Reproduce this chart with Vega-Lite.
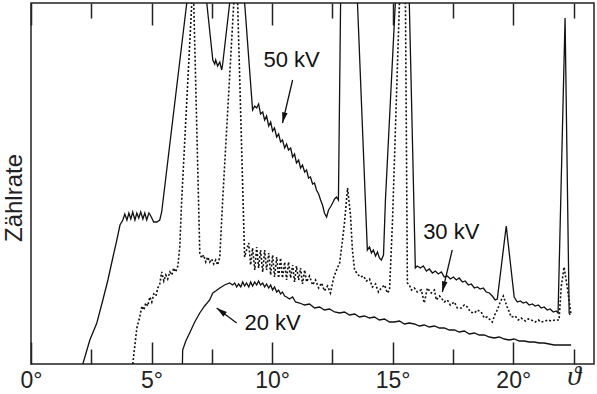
{
  "$schema": "https://vega.github.io/schema/vega-lite/v6.json",
  "width": 563,
  "height": 361,
  "autosize": {"type": "none"},
  "padding": {"left": 31, "top": 3, "right": 3, "bottom": 30},
  "config": {
    "view": {"stroke": "#222", "strokeWidth": 1.5},
    "font": "Liberation Sans",
    "axisX": {"domain": false, "grid": false, "title": null, "tickColor": "#222", "tickWidth": 1.5, "labelOverlap": false, "labelFlush": false, "labelColor": "#222"}
  },
  "datasets": {
    "curves": [
      {"series":"50 kV","theta":2.15,"rate":0},{"series":"50 kV","theta":2.44,"rate":24},{"series":"50 kV","theta":2.73,"rate":41},{"series":"50 kV","theta":2.98,"rate":64},{"series":"50 kV","theta":3.19,"rate":84},{"series":"50 kV","theta":3.40,"rate":107},{"series":"50 kV","theta":3.56,"rate":124},{"series":"50 kV","theta":3.69,"rate":139},{"series":"50 kV","theta":3.81,"rate":144},{"series":"50 kV","theta":3.89,"rate":150},{"series":"50 kV","theta":3.98,"rate":144},{"series":"50 kV","theta":4.06,"rate":151},{"series":"50 kV","theta":4.14,"rate":145},{"series":"50 kV","theta":4.22,"rate":152},{"series":"50 kV","theta":4.31,"rate":144},{"series":"50 kV","theta":4.39,"rate":151},{"series":"50 kV","theta":4.47,"rate":146},{"series":"50 kV","theta":4.55,"rate":152},{"series":"50 kV","theta":4.64,"rate":145},{"series":"50 kV","theta":4.72,"rate":151},{"series":"50 kV","theta":4.80,"rate":144},{"series":"50 kV","theta":4.89,"rate":151},{"series":"50 kV","theta":4.97,"rate":148},{"series":"50 kV","theta":5.09,"rate":142},{"series":"50 kV","theta":5.22,"rate":142},{"series":"50 kV","theta":5.34,"rate":144},{"series":"50 kV","theta":5.42,"rate":152},{"series":"50 kV","theta":6.46,"rate":361},{"series":"50 kV","theta":6.87,"rate":424},{"series":"50 kV","theta":7.29,"rate":361},{"series":"50 kV","theta":7.54,"rate":304},{"series":"50 kV","theta":7.62,"rate":300},{"series":"50 kV","theta":7.66,"rate":304},{"series":"50 kV","theta":7.74,"rate":298},{"series":"50 kV","theta":7.83,"rate":302},{"series":"50 kV","theta":7.91,"rate":294},{"series":"50 kV","theta":7.95,"rate":300},{"series":"50 kV","theta":8.24,"rate":361},{"series":"50 kV","theta":8.53,"rate":404},{"series":"50 kV","theta":8.86,"rate":361},{"series":"50 kV","theta":9.19,"rate":254},{"series":"50 kV","theta":9.28,"rate":258},{"series":"50 kV","theta":9.36,"rate":256},{"series":"50 kV","theta":9.44,"rate":260},{"series":"50 kV","theta":9.52,"rate":250},{"series":"50 kV","theta":9.61,"rate":252},{"series":"50 kV","theta":9.69,"rate":244},{"series":"50 kV","theta":9.77,"rate":248},{"series":"50 kV","theta":9.86,"rate":238},{"series":"50 kV","theta":9.94,"rate":242},{"series":"50 kV","theta":10.02,"rate":233},{"series":"50 kV","theta":10.10,"rate":236},{"series":"50 kV","theta":10.19,"rate":227},{"series":"50 kV","theta":10.27,"rate":230},{"series":"50 kV","theta":10.35,"rate":222},{"series":"50 kV","theta":10.43,"rate":224},{"series":"50 kV","theta":10.52,"rate":216},{"series":"50 kV","theta":10.60,"rate":220},{"series":"50 kV","theta":10.68,"rate":214},{"series":"50 kV","theta":10.77,"rate":216},{"series":"50 kV","theta":10.85,"rate":207},{"series":"50 kV","theta":10.93,"rate":210},{"series":"50 kV","theta":11.01,"rate":201},{"series":"50 kV","theta":11.10,"rate":204},{"series":"50 kV","theta":11.18,"rate":196},{"series":"50 kV","theta":11.26,"rate":199},{"series":"50 kV","theta":11.35,"rate":192},{"series":"50 kV","theta":11.43,"rate":194},{"series":"50 kV","theta":11.51,"rate":186},{"series":"50 kV","theta":11.59,"rate":187},{"series":"50 kV","theta":11.68,"rate":180},{"series":"50 kV","theta":11.76,"rate":181},{"series":"50 kV","theta":11.84,"rate":174},{"series":"50 kV","theta":11.93,"rate":170},{"series":"50 kV","theta":12.01,"rate":164},{"series":"50 kV","theta":12.09,"rate":159},{"series":"50 kV","theta":12.17,"rate":151},{"series":"50 kV","theta":12.26,"rate":147},{"series":"50 kV","theta":12.34,"rate":154},{"series":"50 kV","theta":12.42,"rate":157},{"series":"50 kV","theta":12.51,"rate":161},{"series":"50 kV","theta":12.59,"rate":165},{"series":"50 kV","theta":12.67,"rate":167},{"series":"50 kV","theta":12.75,"rate":164},{"series":"50 kV","theta":12.84,"rate":361},{"series":"50 kV","theta":13.25,"rate":464},{"series":"50 kV","theta":13.54,"rate":361},{"series":"50 kV","theta":13.95,"rate":114},{"series":"50 kV","theta":14.04,"rate":117},{"series":"50 kV","theta":14.12,"rate":111},{"series":"50 kV","theta":14.20,"rate":114},{"series":"50 kV","theta":14.29,"rate":108},{"series":"50 kV","theta":14.37,"rate":112},{"series":"50 kV","theta":14.45,"rate":106},{"series":"50 kV","theta":14.53,"rate":104},{"series":"50 kV","theta":14.62,"rate":109},{"series":"50 kV","theta":14.70,"rate":164},{"series":"50 kV","theta":15.11,"rate":361},{"series":"50 kV","theta":15.40,"rate":444},{"series":"50 kV","theta":15.69,"rate":361},{"series":"50 kV","theta":15.94,"rate":96},{"series":"50 kV","theta":16.02,"rate":98},{"series":"50 kV","theta":16.15,"rate":96},{"series":"50 kV","theta":16.27,"rate":98},{"series":"50 kV","theta":16.40,"rate":93},{"series":"50 kV","theta":16.52,"rate":95},{"series":"50 kV","theta":16.65,"rate":91},{"series":"50 kV","theta":16.77,"rate":93},{"series":"50 kV","theta":16.89,"rate":90},{"series":"50 kV","theta":17.02,"rate":92},{"series":"50 kV","theta":17.14,"rate":87},{"series":"50 kV","theta":17.27,"rate":88},{"series":"50 kV","theta":17.39,"rate":85},{"series":"50 kV","theta":17.52,"rate":87},{"series":"50 kV","theta":17.64,"rate":84},{"series":"50 kV","theta":17.76,"rate":86},{"series":"50 kV","theta":17.89,"rate":82},{"series":"50 kV","theta":18.01,"rate":83},{"series":"50 kV","theta":18.14,"rate":79},{"series":"50 kV","theta":18.26,"rate":80},{"series":"50 kV","theta":18.39,"rate":76},{"series":"50 kV","theta":18.51,"rate":77},{"series":"50 kV","theta":18.63,"rate":75},{"series":"50 kV","theta":18.76,"rate":76},{"series":"50 kV","theta":18.88,"rate":72},{"series":"50 kV","theta":19.01,"rate":71},{"series":"50 kV","theta":19.13,"rate":68},{"series":"50 kV","theta":19.25,"rate":64},{"series":"50 kV","theta":19.34,"rate":65},{"series":"50 kV","theta":19.71,"rate":138},{"series":"50 kV","theta":20.04,"rate":67},{"series":"50 kV","theta":20.17,"rate":62},{"series":"50 kV","theta":20.29,"rate":63},{"series":"50 kV","theta":20.41,"rate":61},{"series":"50 kV","theta":20.54,"rate":62},{"series":"50 kV","theta":20.66,"rate":59},{"series":"50 kV","theta":20.79,"rate":60},{"series":"50 kV","theta":20.91,"rate":58},{"series":"50 kV","theta":21.04,"rate":59},{"series":"50 kV","theta":21.16,"rate":56},{"series":"50 kV","theta":21.28,"rate":57},{"series":"50 kV","theta":21.41,"rate":54},{"series":"50 kV","theta":21.53,"rate":55},{"series":"50 kV","theta":21.66,"rate":52},{"series":"50 kV","theta":21.78,"rate":53},{"series":"50 kV","theta":21.86,"rate":51},{"series":"50 kV","theta":22.15,"rate":346},{"series":"50 kV","theta":22.32,"rate":51},{"series":"50 kV","theta":22.36,"rate":49},
      {"series":"30 kV","theta":4.22,"rate":0},{"series":"30 kV","theta":4.31,"rate":19},{"series":"30 kV","theta":4.39,"rate":36},{"series":"30 kV","theta":4.51,"rate":47},{"series":"30 kV","theta":4.60,"rate":58},{"series":"30 kV","theta":4.68,"rate":54},{"series":"30 kV","theta":4.76,"rate":61},{"series":"30 kV","theta":4.84,"rate":58},{"series":"30 kV","theta":4.93,"rate":67},{"series":"30 kV","theta":5.01,"rate":62},{"series":"30 kV","theta":5.09,"rate":70},{"series":"30 kV","theta":5.18,"rate":68},{"series":"30 kV","theta":5.26,"rate":76},{"series":"30 kV","theta":5.34,"rate":80},{"series":"30 kV","theta":5.42,"rate":92},{"series":"30 kV","theta":5.51,"rate":83},{"series":"30 kV","theta":5.59,"rate":89},{"series":"30 kV","theta":5.67,"rate":85},{"series":"30 kV","theta":5.76,"rate":92},{"series":"30 kV","theta":5.84,"rate":89},{"series":"30 kV","theta":5.92,"rate":96},{"series":"30 kV","theta":6.00,"rate":92},{"series":"30 kV","theta":6.09,"rate":98},{"series":"30 kV","theta":6.17,"rate":117},{"series":"30 kV","theta":6.25,"rate":164},{"series":"30 kV","theta":6.67,"rate":361},{"series":"30 kV","theta":6.71,"rate":380},{"series":"30 kV","theta":6.75,"rate":361},{"series":"30 kV","theta":7.00,"rate":111},{"series":"30 kV","theta":7.08,"rate":106},{"series":"30 kV","theta":7.16,"rate":109},{"series":"30 kV","theta":7.25,"rate":102},{"series":"30 kV","theta":7.33,"rate":107},{"series":"30 kV","theta":7.41,"rate":102},{"series":"30 kV","theta":7.49,"rate":105},{"series":"30 kV","theta":7.58,"rate":100},{"series":"30 kV","theta":7.66,"rate":104},{"series":"30 kV","theta":7.74,"rate":99},{"series":"30 kV","theta":7.83,"rate":107},{"series":"30 kV","theta":7.95,"rate":164},{"series":"30 kV","theta":8.41,"rate":361},{"series":"30 kV","theta":8.49,"rate":384},{"series":"30 kV","theta":8.57,"rate":361},{"series":"30 kV","theta":8.86,"rate":107},{"series":"30 kV","theta":8.94,"rate":114},{"series":"30 kV","theta":9.03,"rate":121},{"series":"30 kV","theta":9.11,"rate":99},{"series":"30 kV","theta":9.19,"rate":116},{"series":"30 kV","theta":9.28,"rate":94},{"series":"30 kV","theta":9.36,"rate":117},{"series":"30 kV","theta":9.44,"rate":96},{"series":"30 kV","theta":9.52,"rate":114},{"series":"30 kV","theta":9.61,"rate":92},{"series":"30 kV","theta":9.69,"rate":114},{"series":"30 kV","theta":9.77,"rate":94},{"series":"30 kV","theta":9.86,"rate":111},{"series":"30 kV","theta":9.94,"rate":89},{"series":"30 kV","theta":10.02,"rate":109},{"series":"30 kV","theta":10.10,"rate":87},{"series":"30 kV","theta":10.19,"rate":107},{"series":"30 kV","theta":10.27,"rate":86},{"series":"30 kV","theta":10.35,"rate":106},{"series":"30 kV","theta":10.43,"rate":86},{"series":"30 kV","theta":10.52,"rate":102},{"series":"30 kV","theta":10.60,"rate":84},{"series":"30 kV","theta":10.68,"rate":102},{"series":"30 kV","theta":10.77,"rate":86},{"series":"30 kV","theta":10.85,"rate":99},{"series":"30 kV","theta":10.93,"rate":82},{"series":"30 kV","theta":11.01,"rate":98},{"series":"30 kV","theta":11.10,"rate":84},{"series":"30 kV","theta":11.18,"rate":96},{"series":"30 kV","theta":11.26,"rate":80},{"series":"30 kV","theta":11.35,"rate":94},{"series":"30 kV","theta":11.43,"rate":82},{"series":"30 kV","theta":11.55,"rate":88},{"series":"30 kV","theta":11.68,"rate":79},{"series":"30 kV","theta":11.80,"rate":84},{"series":"30 kV","theta":11.93,"rate":76},{"series":"30 kV","theta":12.05,"rate":81},{"series":"30 kV","theta":12.17,"rate":73},{"series":"30 kV","theta":12.30,"rate":78},{"series":"30 kV","theta":12.42,"rate":71},{"series":"30 kV","theta":12.55,"rate":86},{"series":"30 kV","theta":12.67,"rate":94},{"series":"30 kV","theta":12.80,"rate":101},{"series":"30 kV","theta":12.92,"rate":124},{"series":"30 kV","theta":13.00,"rate":141},{"series":"30 kV","theta":13.13,"rate":176},{"series":"30 kV","theta":13.25,"rate":149},{"series":"30 kV","theta":13.33,"rate":114},{"series":"30 kV","theta":13.42,"rate":94},{"series":"30 kV","theta":13.54,"rate":90},{"series":"30 kV","theta":13.66,"rate":87},{"series":"30 kV","theta":13.79,"rate":88},{"series":"30 kV","theta":13.91,"rate":83},{"series":"30 kV","theta":14.04,"rate":85},{"series":"30 kV","theta":14.16,"rate":77},{"series":"30 kV","theta":14.29,"rate":80},{"series":"30 kV","theta":14.41,"rate":72},{"series":"30 kV","theta":14.53,"rate":76},{"series":"30 kV","theta":14.66,"rate":79},{"series":"30 kV","theta":14.78,"rate":71},{"series":"30 kV","theta":14.87,"rate":74},{"series":"30 kV","theta":14.99,"rate":141},{"series":"30 kV","theta":15.28,"rate":361},{"series":"30 kV","theta":15.40,"rate":384},{"series":"30 kV","theta":15.53,"rate":361},{"series":"30 kV","theta":15.61,"rate":81},{"series":"30 kV","theta":15.69,"rate":79},{"series":"30 kV","theta":15.78,"rate":74},{"series":"30 kV","theta":15.90,"rate":76},{"series":"30 kV","theta":16.02,"rate":72},{"series":"30 kV","theta":16.19,"rate":74},{"series":"30 kV","theta":16.31,"rate":61},{"series":"30 kV","theta":16.44,"rate":76},{"series":"30 kV","theta":16.60,"rate":71},{"series":"30 kV","theta":16.73,"rate":74},{"series":"30 kV","theta":16.81,"rate":64},{"series":"30 kV","theta":16.94,"rate":68},{"series":"30 kV","theta":17.02,"rate":66},{"series":"30 kV","theta":17.14,"rate":62},{"series":"30 kV","theta":17.27,"rate":64},{"series":"30 kV","theta":17.39,"rate":59},{"series":"30 kV","theta":17.56,"rate":62},{"series":"30 kV","theta":17.68,"rate":56},{"series":"30 kV","theta":17.85,"rate":56},{"series":"30 kV","theta":17.97,"rate":59},{"series":"30 kV","theta":18.10,"rate":57},{"series":"30 kV","theta":18.22,"rate":52},{"series":"30 kV","theta":18.39,"rate":51},{"series":"30 kV","theta":18.51,"rate":54},{"series":"30 kV","theta":18.67,"rate":52},{"series":"30 kV","theta":18.80,"rate":46},{"series":"30 kV","theta":18.92,"rate":47},{"series":"30 kV","theta":19.05,"rate":44},{"series":"30 kV","theta":19.13,"rate":42},{"series":"30 kV","theta":19.25,"rate":50},{"series":"30 kV","theta":19.34,"rate":54},{"series":"30 kV","theta":19.46,"rate":62},{"series":"30 kV","theta":19.59,"rate":68},{"series":"30 kV","theta":19.75,"rate":57},{"series":"30 kV","theta":19.92,"rate":47},{"series":"30 kV","theta":20.08,"rate":48},{"series":"30 kV","theta":20.21,"rate":44},{"series":"30 kV","theta":20.33,"rate":46},{"series":"30 kV","theta":20.50,"rate":43},{"series":"30 kV","theta":20.62,"rate":45},{"series":"30 kV","theta":20.75,"rate":44},{"series":"30 kV","theta":20.91,"rate":42},{"series":"30 kV","theta":21.04,"rate":44},{"series":"30 kV","theta":21.16,"rate":42},{"series":"30 kV","theta":21.33,"rate":43},{"series":"30 kV","theta":21.45,"rate":44},{"series":"30 kV","theta":21.57,"rate":43},{"series":"30 kV","theta":21.74,"rate":44},{"series":"30 kV","theta":21.90,"rate":44},{"series":"30 kV","theta":21.99,"rate":77},{"series":"30 kV","theta":22.11,"rate":97},{"series":"30 kV","theta":22.24,"rate":77},{"series":"30 kV","theta":22.40,"rate":49},
      {"series":"20 kV","theta":6.28,"rate":0},{"series":"20 kV","theta":6.29,"rate":14},{"series":"20 kV","theta":6.42,"rate":23},{"series":"20 kV","theta":6.58,"rate":31},{"series":"20 kV","theta":6.79,"rate":42},{"series":"20 kV","theta":7.00,"rate":51},{"series":"20 kV","theta":7.20,"rate":58},{"series":"20 kV","theta":7.41,"rate":64},{"series":"20 kV","theta":7.54,"rate":71},{"series":"20 kV","theta":7.66,"rate":73},{"series":"20 kV","theta":7.83,"rate":76},{"series":"20 kV","theta":8.03,"rate":79},{"series":"20 kV","theta":8.24,"rate":81},{"series":"20 kV","theta":8.36,"rate":79},{"series":"20 kV","theta":8.45,"rate":81},{"series":"20 kV","theta":8.53,"rate":77},{"series":"20 kV","theta":8.61,"rate":80},{"series":"20 kV","theta":8.70,"rate":77},{"series":"20 kV","theta":8.78,"rate":82},{"series":"20 kV","theta":8.86,"rate":78},{"series":"20 kV","theta":8.94,"rate":81},{"series":"20 kV","theta":9.03,"rate":77},{"series":"20 kV","theta":9.11,"rate":82},{"series":"20 kV","theta":9.19,"rate":78},{"series":"20 kV","theta":9.28,"rate":82},{"series":"20 kV","theta":9.36,"rate":79},{"series":"20 kV","theta":9.44,"rate":83},{"series":"20 kV","theta":9.52,"rate":79},{"series":"20 kV","theta":9.61,"rate":81},{"series":"20 kV","theta":9.69,"rate":77},{"series":"20 kV","theta":9.77,"rate":80},{"series":"20 kV","theta":9.86,"rate":76},{"series":"20 kV","theta":9.94,"rate":79},{"series":"20 kV","theta":10.02,"rate":74},{"series":"20 kV","theta":10.10,"rate":77},{"series":"20 kV","theta":10.19,"rate":72},{"series":"20 kV","theta":10.27,"rate":74},{"series":"20 kV","theta":10.35,"rate":70},{"series":"20 kV","theta":10.43,"rate":72},{"series":"20 kV","theta":10.52,"rate":68},{"series":"20 kV","theta":10.60,"rate":67},{"series":"20 kV","theta":10.72,"rate":65},{"series":"20 kV","theta":10.85,"rate":67},{"series":"20 kV","theta":10.97,"rate":62},{"series":"20 kV","theta":11.14,"rate":61},{"series":"20 kV","theta":11.35,"rate":59},{"series":"20 kV","theta":11.55,"rate":60},{"series":"20 kV","theta":11.76,"rate":56},{"series":"20 kV","theta":11.97,"rate":57},{"series":"20 kV","theta":12.17,"rate":54},{"series":"20 kV","theta":12.38,"rate":55},{"series":"20 kV","theta":12.59,"rate":52},{"series":"20 kV","theta":12.80,"rate":51},{"series":"20 kV","theta":13.00,"rate":52},{"series":"20 kV","theta":13.21,"rate":49},{"series":"20 kV","theta":13.42,"rate":50},{"series":"20 kV","theta":13.62,"rate":47},{"series":"20 kV","theta":13.83,"rate":48},{"series":"20 kV","theta":14.04,"rate":46},{"series":"20 kV","theta":14.24,"rate":47},{"series":"20 kV","theta":14.45,"rate":44},{"series":"20 kV","theta":14.66,"rate":45},{"series":"20 kV","theta":14.87,"rate":42},{"series":"20 kV","theta":15.07,"rate":42},{"series":"20 kV","theta":15.28,"rate":43},{"series":"20 kV","theta":15.49,"rate":40},{"series":"20 kV","theta":15.69,"rate":41},{"series":"20 kV","theta":15.90,"rate":40},{"series":"20 kV","theta":16.11,"rate":38},{"series":"20 kV","theta":16.31,"rate":39},{"series":"20 kV","theta":16.52,"rate":37},{"series":"20 kV","theta":16.73,"rate":38},{"series":"20 kV","theta":16.94,"rate":36},{"series":"20 kV","theta":17.14,"rate":36},{"series":"20 kV","theta":17.35,"rate":34},{"series":"20 kV","theta":17.56,"rate":34},{"series":"20 kV","theta":17.76,"rate":32},{"series":"20 kV","theta":17.97,"rate":33},{"series":"20 kV","theta":18.18,"rate":30},{"series":"20 kV","theta":18.39,"rate":31},{"series":"20 kV","theta":18.59,"rate":29},{"series":"20 kV","theta":18.80,"rate":29},{"series":"20 kV","theta":19.01,"rate":27},{"series":"20 kV","theta":19.21,"rate":26},{"series":"20 kV","theta":19.42,"rate":27},{"series":"20 kV","theta":19.63,"rate":25},{"series":"20 kV","theta":19.83,"rate":24},{"series":"20 kV","theta":20.04,"rate":25},{"series":"20 kV","theta":20.25,"rate":23},{"series":"20 kV","theta":20.46,"rate":23},{"series":"20 kV","theta":20.66,"rate":22},{"series":"20 kV","theta":20.87,"rate":22},{"series":"20 kV","theta":21.08,"rate":21},{"series":"20 kV","theta":21.28,"rate":21},{"series":"20 kV","theta":21.49,"rate":20},{"series":"20 kV","theta":21.70,"rate":19},{"series":"20 kV","theta":21.90,"rate":19},{"series":"20 kV","theta":22.11,"rate":19},{"series":"20 kV","theta":22.40,"rate":19}
    ],
    "labels": [
      {"label":"50 kV","theta":10.81,"rate":304},
      {"label":"30 kV","theta":17.43,"rate":132},
      {"label":"20 kV","theta":10.02,"rate":41}
    ],
    "ytitle": [
      {"label":"Zählrate","theta":-0.68,"rate":166}
    ],
    "arrows": [
      {"label":"50 kV","theta":10.85,"rate":284,"theta2":10.43,"rate2":241},
      {"label":"30 kV","theta":17.47,"rate":114,"theta2":17.06,"rate2":72},
      {"label":"20 kV","theta":8.53,"rate":41,"theta2":7.70,"rate2":56}
    ]
  },
  "resolve": {"axis": {"x": "independent"}},
  "layer": [
    {
      "data": {"name": "curves"},
      "transform": [{"filter": "datum.series !== '30 kV'"}],
      "mark": {"type": "line", "clip": true, "color": "#111", "strokeWidth": 1.3, "interpolate": "linear"},
      "encoding": {
        "x": {
          "field": "theta", "type": "quantitative",
          "scale": {"domain": [0, 23.35], "nice": false, "zero": false},
          "axis": {
            "orient": "bottom",
            "values": [0, 5, 10, 15, 20],
            "tickSize": -22,
            "labelExpr": "datum.value + '°'",
            "labelFont": "Liberation Sans",
            "labelFontSize": 23,
            "labelBaseline": "top",
            "labelPadding": 27
          }
        },
        "y": {
          "field": "rate", "type": "quantitative",
          "scale": {"domain": [0, 361], "nice": false, "zero": false},
          "axis": null
        },
        "detail": {"field": "series", "type": "nominal"}
      }
    },
    {
      "data": {"name": "curves"},
      "transform": [{"filter": "datum.series === '30 kV'"}],
      "mark": {"type": "line", "clip": true, "color": "#111", "strokeWidth": 1.6, "strokeDash": [2, 2], "interpolate": "linear"},
      "encoding": {
        "x": {
          "field": "theta", "type": "quantitative",
          "axis": {
            "orient": "bottom",
            "values": [2.5, 7.5, 12.5, 17.5, 22.5],
            "tickSize": -15,
            "labelExpr": "datum.value === 22.5 ? 'ϑ' : ''",
            "labelFont": "Liberation Serif",
            "labelFontStyle": "italic",
            "labelFontSize": 28,
            "labelBaseline": "middle",
            "labelPadding": 27
          }
        },
        "y": {"field": "rate", "type": "quantitative", "axis": null}
      }
    },
    {
      "data": {"name": "labels"},
      "mark": {"type": "text", "fontSize": 22, "font": "Liberation Sans", "color": "#111", "align": "center", "baseline": "middle"},
      "encoding": {
        "x": {
          "field": "theta", "type": "quantitative",
          "axis": {"orient": "top", "values": [0, 5, 10, 15, 20], "labels": false, "tickSize": -22}
        },
        "y": {"field": "rate", "type": "quantitative", "axis": null},
        "text": {"field": "label"}
      }
    },
    {
      "data": {"name": "arrows"},
      "mark": {"type": "rule", "color": "#111", "strokeWidth": 1.3},
      "encoding": {
        "x": {
          "field": "theta", "type": "quantitative",
          "axis": {"orient": "top", "values": [2.5, 7.5, 12.5, 17.5, 22.5], "labels": false, "tickSize": -15}
        },
        "y": {"field": "rate", "type": "quantitative", "axis": null},
        "x2": {"field": "theta2"},
        "y2": {"field": "rate2"}
      }
    },
    {
      "data": {"name": "arrows"},
      "transform": [{"filter": "datum.label !== '20 kV'"}],
      "mark": {"type": "point", "filled": true, "color": "#111", "opacity": 1, "size": 200, "shape": "M0,0L0.4,1.5L-0.4,1.5Z", "angle": 193},
      "encoding": {
        "x": {"field": "theta2", "type": "quantitative", "axis": null},
        "y": {"field": "rate2", "type": "quantitative", "axis": null}
      }
    },
    {
      "data": {"name": "arrows"},
      "transform": [{"filter": "datum.label === '20 kV'"}],
      "mark": {"type": "point", "filled": true, "color": "#111", "opacity": 1, "size": 200, "shape": "M0,0L0.4,1.5L-0.4,1.5Z", "angle": 307},
      "encoding": {
        "x": {"field": "theta2", "type": "quantitative", "axis": null},
        "y": {"field": "rate2", "type": "quantitative", "axis": null}
      }
    },
    {
      "data": {"name": "ytitle"},
      "mark": {"type": "text", "fontSize": 24, "font": "Liberation Sans", "color": "#222", "align": "center", "baseline": "middle", "angle": -90},
      "encoding": {
        "x": {"field": "theta", "type": "quantitative", "axis": null},
        "y": {"field": "rate", "type": "quantitative", "axis": null},
        "text": {"field": "label"}
      }
    }
  ]
}
